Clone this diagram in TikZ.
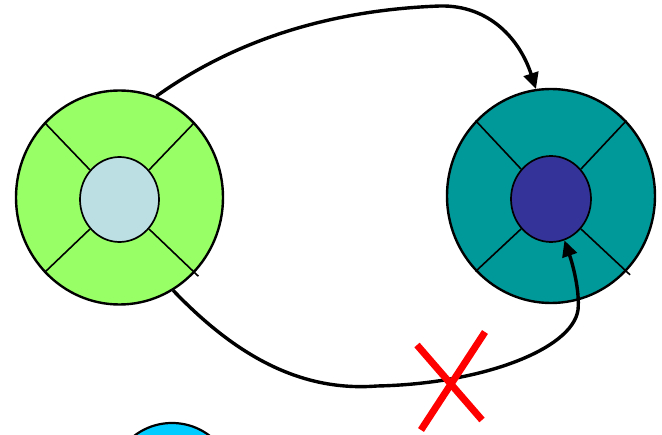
\documentclass[tikz,border=0pt]{standalone}
\usepackage{tikz}
\usetikzlibrary{
    arrows.meta,      % For arrow tips
    shapes.geometric  % For the ellipse nodes
}

\definecolor{leafgreen}{HTML}{99FF66}
\definecolor{paleblue}{HTML}{BBDFE3}
\definecolor{deepteal}{HTML}{009999}
\definecolor{indigo}{HTML}{333399}
\definecolor{skycyan}{HTML}{00CCFF}

\begin{document}
\begin{tikzpicture}[
    x=1pt, y=-1pt, % pixel-like units, y grows downwards
    >={Triangle[length=16pt,width=15pt]}, % Set default arrow tip style
    ring/.style={ellipse, draw, line width=2.4pt, inner sep=0pt,
        minimum width=207pt, minimum height=214pt},
    core/.style={ellipse, draw, line width=1.7pt, inner sep=0pt,
        minimum width=79pt, minimum height=85pt},
    spoke/.style={line width=1.6pt},
    link/.style={line width=3.4pt, ->},
    cross/.style={red, line width=7pt}
]
    \useasboundingbox (0,0) rectangle (662,435);
    \clip (0,0) rectangle (662,435);

    % Left ring with its core
    \node[ring, fill=leafgreen] (Left) at (119.5,197.5) {};
    \node[core, fill=paleblue] (LeftCore) at (119.5,199.5) {};

    % Right ring with its core
    \node[ring, fill=deepteal, minimum width=208pt] (Right) at (551,196) {};
    \node[core, fill=indigo, minimum width=80pt, minimum height=86pt] (RightCore) at (551,199) {};

    % Spokes from each ring to its core
    \foreach \n in {Left, Right} {
        \draw[spoke] (\n.135) -- (\n Core.135);
        \draw[spoke] (\n.45) -- (\n Core.45);
        \draw[spoke] (\n.225) -- (\n Core.225);
        \draw[spoke, shorten >=-5pt] (\n Core.-45) -- (\n.-45); % sticks out a little
    }

    % Third ring, cut off by the lower edge
    \node[circle, draw, line width=2.2pt, fill=skycyan, minimum size=124pt, inner sep=0pt] (Third) at (172,485) {};

    % Upper link: left ring -> right ring
    \coordinate (Top) at (440,6);
    \draw[link] (Left.70) .. controls (235,40) and (330,10) .. (Top)
        .. controls (490,5) and (520,40) .. (Right.98);

    % Lower link: left ring -> right core
    \coordinate (Bottom) at (377,386);
    \coordinate (Turn) at (578,310);
    \draw[link] (Left.300) .. controls (235,355) and (300,392) .. (Bottom)
        .. controls (480,384) and (572,350) .. (Turn)
        .. controls (580,290) and (572,262) .. (RightCore.288);

    % Red cross on the lower link
    \draw[cross] (417,345) -- (482,420);
    \draw[cross] (485,332) -- (421,430);

\end{tikzpicture}
\end{document}
